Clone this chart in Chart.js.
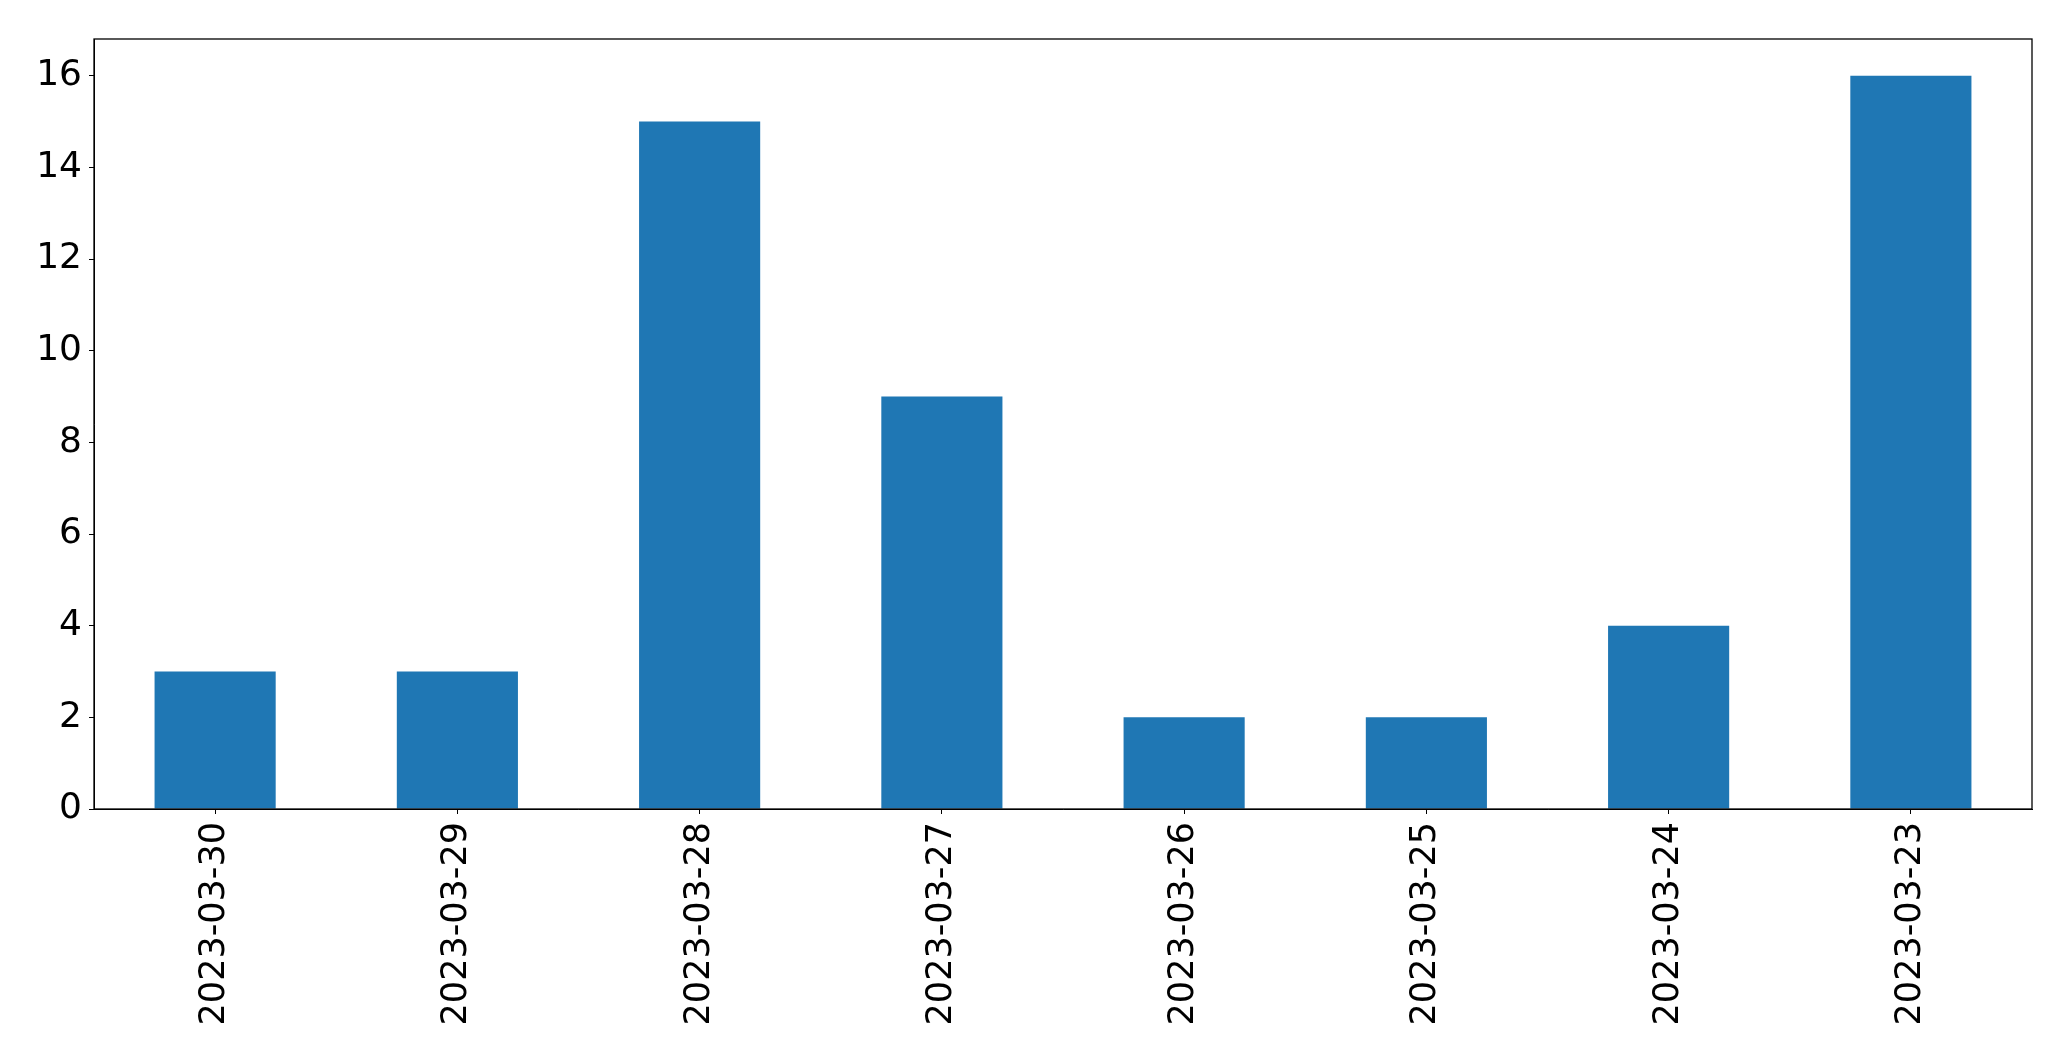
<!DOCTYPE html>
<html>
<head>
<meta charset="utf-8">
<script src="https://cdn.jsdelivr.net/npm/chart.js@4"></script>
<style>
body{margin:0;background:#fff;}
#wrap{width:2071px;height:1061px;}
</style>
</head>
<body>
<div id="wrap"><canvas id="bars"></canvas></div>
<script>
const days=["2023-03-30","2023-03-29","2023-03-28","2023-03-27","2023-03-26","2023-03-25","2023-03-24","2023-03-23"]
const counts=[3,3,15,9,2,2,4,16]
const yMax=16.8

Chart.defaults.font.family="DejaVu Sans"
Chart.defaults.color="#000"

// matplotlib style frame around the plot area
const frame={
    id:"frame",
    afterDraw(chart){
        const a=chart.chartArea, c=chart.ctx
        c.save()
        c.strokeStyle="#000"
        c.lineWidth=1.3
        c.strokeRect(a.left,a.top,a.right-a.left,a.bottom-a.top)
        c.restore()
    }
}

new Chart(document.getElementById("bars"),{
    type:"bar",
    data:{
        labels:days,
        datasets:[{
            data:counts,
            backgroundColor:"#1f77b4",
            categoryPercentage:1,
            barPercentage:0.5,
        }],
    },
    options:{
        responsive:true,
        maintainAspectRatio:false,
        animation:false,
        layout:{padding:{top:39,right:39,left:0,bottom:0}},
        plugins:{
            legend:{display:false},
            tooltip:{enabled:false},
        },
        scales:{
            x:{
                grid:{drawOnChartArea:false,offset:false,tickLength:5,color:"#000"},
                border:{color:"#000"},
                ticks:{font:{size:35},maxRotation:90,minRotation:90,padding:8},
                afterFit(s){s.height=252},
            },
            y:{
                min:0,
                max:yMax,
                grid:{drawOnChartArea:false,tickLength:5,color:"#000"},
                border:{color:"#000"},
                ticks:{font:{size:36},stepSize:2,includeBounds:false,padding:7},
                afterFit(s){s.width=94},
            },
        },
    },
    plugins:[frame],
})
</script>
</body>
</html>
